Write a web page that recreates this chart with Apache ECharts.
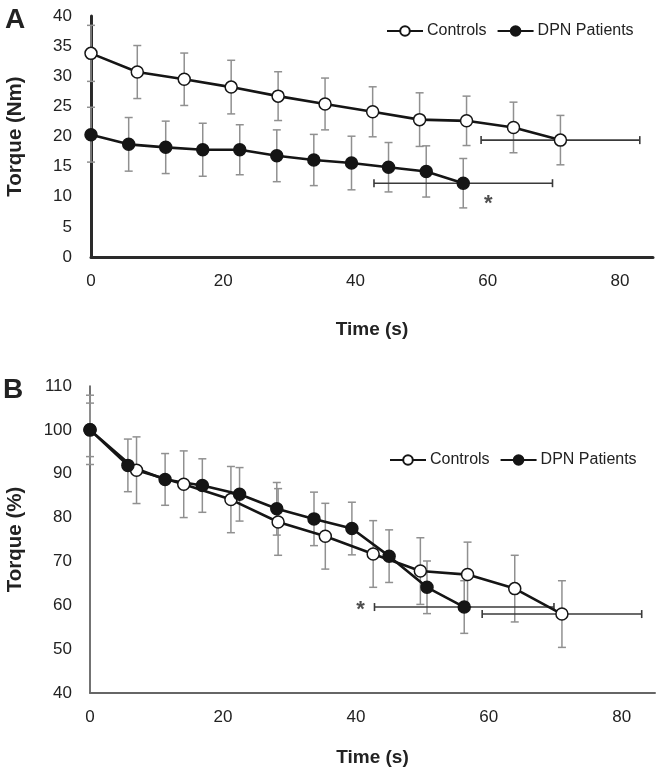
<!DOCTYPE html>
<html>
<head>
<meta charset="utf-8">
<script src="https://cdn.jsdelivr.net/npm/echarts@6/dist/echarts.min.js"></script>
<style>
html,body{margin:0;padding:0;background:#fff;}
#c{width:656px;height:777px;}
</style>
</head>
<body>
<div id="c"></div>
<script>
// ---- Data ----
const ctrlTime = [0, 7.0, 14.1, 21.2, 28.3, 35.4, 42.6, 49.7, 56.8, 63.9, 71.0];
const dpnTime  = [0, 5.7, 11.3, 16.9, 22.5, 28.1, 33.7, 39.4, 45.0, 50.7, 56.3];

const ctrlA   = [33.8, 30.7, 29.5, 28.2, 26.7, 25.4, 24.1, 22.8, 22.6, 21.5, 19.4];
const ctrlAsd = [4.65, 4.4, 4.35, 4.45, 4.05, 4.3, 4.15, 4.45, 4.1, 4.2, 4.1];
const dpnA    = [20.3, 18.7, 18.2, 17.8, 17.8, 16.8, 16.1, 15.6, 14.9, 14.2, 12.25];
const dpnAsd  = [4.55, 4.45, 4.35, 4.4, 4.15, 4.3, 4.25, 4.45, 4.1, 4.25, 4.1];

const ctrlB   = [100, 90.8, 87.6, 84.1, 79.0, 75.75, 71.7, 67.8, 67.0, 63.8, 58.0];
const ctrlBsd = [7.9, 7.6, 7.6, 7.55, 7.6, 7.5, 7.6, 7.6, 7.4, 7.6, 7.6];
const dpnB    = [100, 91.9, 88.7, 87.3, 85.3, 82.0, 79.7, 77.5, 71.2, 64.1, 59.6];
const dpnBsd  = [6.1, 6.0, 5.9, 6.1, 6.1, 6.0, 6.1, 6.0, 6.0, 6.0, 6.0];

const ctrlEndTimeSd = 12.0;
const dpnEndTimeSd  = 13.5;

const asteriskA = [60.1, 8.8];
const asteriskB = [40.7, 59.0];

const xTicks = [0, 20, 40, 60, 80];
const seriesNames = ['Controls', 'DPN Patients'];

// ---- Helpers ----
const FONT = '"Liberation Sans", Arial, sans-serif';
const pairs = (xs, ys) => xs.map((x, i) => [x, ys[i]]);
const vbars = (xs, ys, sd) => xs.map((x, i) => [x, ys[i], sd[i]]);

function vErr(params, api) {
  const x = api.value(0), y = api.value(1), s = api.value(2);
  const top = api.coord([x, y + s]);
  const bot = api.coord([x, y - s]);
  const w = 4;
  const st = { stroke: '#909090', lineWidth: 1.5 };
  return { type: 'group', children: [
    { type: 'line', shape: { x1: top[0], y1: top[1], x2: bot[0], y2: bot[1] }, style: st },
    { type: 'line', shape: { x1: top[0]-w, y1: top[1], x2: top[0]+w, y2: top[1] }, style: st },
    { type: 'line', shape: { x1: bot[0]-w, y1: bot[1], x2: bot[0]+w, y2: bot[1] }, style: st }
  ]};
}
function hErr(params, api) {
  const x = api.value(0), y = api.value(1), s = api.value(2);
  const l = api.coord([x - s, y]);
  const r = api.coord([x + s, y]);
  const h = 4;
  const st = { stroke: '#3a3a3a', lineWidth: 1.6 };
  return { type: 'group', children: [
    { type: 'line', shape: { x1: l[0], y1: l[1], x2: r[0], y2: r[1] }, style: st },
    { type: 'line', shape: { x1: l[0], y1: l[1]-h, x2: l[0], y2: l[1]+h }, style: st },
    { type: 'line', shape: { x1: r[0], y1: r[1]-h, x2: r[0], y2: r[1]+h }, style: st }
  ]};
}

function lineSeries(name, data, idx, filled) {
  return {
    name, type: 'line', data, xAxisIndex: idx, yAxisIndex: idx,
    symbol: 'circle', symbolSize: 12, z: 5,
    lineStyle: { color: '#151515', width: 2.6 },
    itemStyle: { color: filled ? '#151515' : '#ffffff', borderColor: '#151515', borderWidth: 1.5 },
    emphasis: { disabled: true }, animation: false
  };
}
function errSeries(data, idx, horiz) {
  return { type: 'custom', xAxisIndex: idx, yAxisIndex: idx, data, renderItem: horiz ? hErr : vErr,
    z: 2, silent: true, animation: false, clip: false };
}
function starSeries(pt, idx) {
  return { type: 'scatter', xAxisIndex: idx, yAxisIndex: idx, data: [pt], symbol: 'circle', symbolSize: 2,
    itemStyle: { color: 'rgba(0,0,0,0)' }, silent: true, animation: false, z: 6,
    label: { show: true, position: 'inside', formatter: '*', fontSize: 22, fontWeight: 'bold', color: '#222', fontFamily: FONT } };
}

const xAxisCommon = {
  type: 'value', min: 0, max: 85, interval: 20,
  splitLine: { show: false }, axisTick: { show: false },
  axisLabel: { fontSize: 17, color: '#222', fontFamily: FONT, margin: 16, showMaxLabel: false,
    formatter: v => xTicks.includes(v) ? String(v) : '' },
  name: 'Time (s)', nameLocation: 'middle',
  nameTextStyle: { fontSize: 19, fontWeight: 'bold', color: '#222', fontFamily: FONT }
};

const option = {
  backgroundColor: '#fff',
  animation: false,
  grid: [
    { left: 91, top: 16, width: 562, height: 241, outerBoundsMode: 'none', containLabel: false },
    { left: 90, top: 386, width: 565, height: 307, outerBoundsMode: 'none', containLabel: false }
  ],
  legend: [
    { data: seriesNames, left: 381, top: 18, itemWidth: 36, itemHeight: 12, itemGap: 10,
      textStyle: { fontSize: 16, color: '#222', fontFamily: FONT, padding: [0, 0, 0, -1] } },
    { data: seriesNames, left: 384, top: 447, itemWidth: 36, itemHeight: 12, itemGap: 10,
      textStyle: { fontSize: 16, color: '#222', fontFamily: FONT, padding: [0, 0, 0, -1] } }
  ],
  xAxis: [
    Object.assign({}, xAxisCommon, { gridIndex: 0, nameGap: 63,
      axisLine: { lineStyle: { color: '#2a2a2a', width: 3 } } }),
    Object.assign({}, xAxisCommon, { gridIndex: 1, nameGap: 55,
      axisLine: { lineStyle: { color: '#666', width: 2 } } })
  ],
  yAxis: [
    { type: 'value', gridIndex: 0, min: 0, max: 40, interval: 5,
      splitLine: { show: false }, axisTick: { show: false },
      axisLine: { show: true, lineStyle: { color: '#2a2a2a', width: 3 } },
      axisLabel: { fontSize: 17, color: '#222', fontFamily: FONT, margin: 19 },
      name: 'Torque (Nm)', nameLocation: 'middle', nameGap: 65, nameRotate: 90,
      nameTextStyle: { fontSize: 20.5, fontWeight: 'bold', color: '#222', fontFamily: FONT } },
    { type: 'value', gridIndex: 1, min: 40, max: 110, interval: 10,
      splitLine: { show: false }, axisTick: { show: false },
      axisLine: { show: true, lineStyle: { color: '#444', width: 1.5 } },
      axisLabel: { fontSize: 17, color: '#222', fontFamily: FONT, margin: 18 },
      name: 'Torque (%)', nameLocation: 'middle', nameGap: 64, nameRotate: 90,
      nameTextStyle: { fontSize: 20.5, fontWeight: 'bold', color: '#222', fontFamily: FONT } }
  ],
  graphic: [
    { type: 'text', left: 5, top: 6, style: { text: 'A', fontSize: 28, fontWeight: 'bold', fill: '#222', fontFamily: FONT } },
    { type: 'text', left: 3, top: 376, style: { text: 'B', fontSize: 28, fontWeight: 'bold', fill: '#222', fontFamily: FONT } }
  ],
  series: [
    errSeries(vbars(ctrlTime, ctrlA, ctrlAsd), 0, false),
    errSeries(vbars(dpnTime, dpnA, dpnAsd), 0, false),
    errSeries([[ctrlTime[ctrlTime.length-1], ctrlA[ctrlA.length-1], ctrlEndTimeSd]], 0, true),
    errSeries([[dpnTime[dpnTime.length-1], dpnA[dpnA.length-1], dpnEndTimeSd]], 0, true),
    lineSeries('Controls', pairs(ctrlTime, ctrlA), 0, false),
    lineSeries('DPN Patients', pairs(dpnTime, dpnA), 0, true),
    starSeries(asteriskA, 0),

    errSeries(vbars(ctrlTime, ctrlB, ctrlBsd), 1, false),
    errSeries(vbars(dpnTime, dpnB, dpnBsd), 1, false),
    errSeries([[ctrlTime[ctrlTime.length-1], ctrlB[ctrlB.length-1], ctrlEndTimeSd]], 1, true),
    errSeries([[dpnTime[dpnTime.length-1], dpnB[dpnB.length-1], dpnEndTimeSd]], 1, true),
    lineSeries('Controls', pairs(ctrlTime, ctrlB), 1, false),
    lineSeries('DPN Patients', pairs(dpnTime, dpnB), 1, true),
    starSeries(asteriskB, 1)
  ]
};

const chart = echarts.init(document.getElementById('c'), null, { renderer: 'canvas' });
chart.setOption(option);
</script>
</body>
</html>
